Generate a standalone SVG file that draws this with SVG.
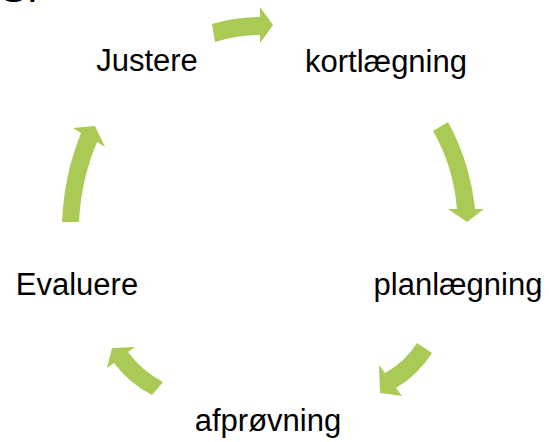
<svg xmlns="http://www.w3.org/2000/svg" width="549" height="442" viewBox="0 0 549 442">
<style>
.lbl{font-family:"Liberation Sans",Arial,sans-serif;font-size:31px;fill:#000;text-anchor:middle}
.arr{fill:#A9CB55;stroke:none}
</style>
<rect width="549" height="442" fill="#fff"/>
<text x="0" y="2" style="font-family:'Liberation Sans',Arial,sans-serif;font-size:40px;fill:#000">S.</text>
<g id="connectors">
<path class="arr" d="M212,24 Q236,17 260,17 L260,7 L273,25 L260,43 L260,35 Q238,35 215,42 Z"/>
<path class="arr" d="M448,122 Q470,162 475,209 L484,209 L467,222 L448,209 L457,209 Q453,165 433,131 Z"/>
<path class="arr" d="M432,353 Q418,375 396,388 L402,396 L380,393 L379,365 L385,373 Q405,362 417,343 Z"/>
<path class="arr" d="M152,395 Q129,383 114,363 L107,368 L112,348 L135,347 L128,352 Q142,371 163,382 Z"/>
<path class="arr" d="M62,222 Q64,175 81,133 L73,128 L95,126 L105,147 L97,142 Q81,180 79,222 Z"/>
</g>
<g id="justere"><text class="lbl" x="147" y="71">Justere</text></g>
<g id="kortlaegning"><text class="lbl" x="386" y="72">kortlægning</text></g>
<g id="planlaegning"><text class="lbl" x="458" y="295">planlægning</text></g>
<g id="afproevning"><text class="lbl" x="268" y="431">afprøvning</text></g>
<g id="evaluere"><text class="lbl" x="77" y="295">Evaluere</text></g>
</svg>
